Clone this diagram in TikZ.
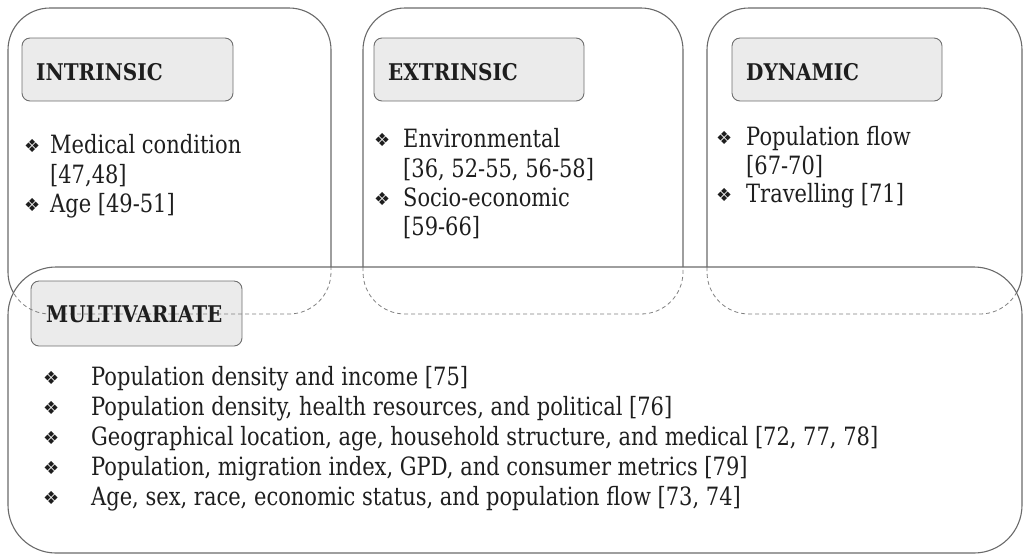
\documentclass[tikz,border=0pt]{standalone}
\usepackage{fontspec}
\usepackage{graphicx}
\setmainfont{DejaVu Serif}
\newfontfamily\dvsans{DejaVu Sans}
\definecolor{linegray}{HTML}{6A6A6A}
\definecolor{dashgray}{HTML}{808080}
\definecolor{headfill}{HTML}{EBEBEB}
\definecolor{headline}{HTML}{6E6E6E}
\definecolor{ink}{HTML}{1E1E1E}
\newcommand{\tallb}[1]{\scalebox{1}[1.2]{#1}}
\newcommand{\tallh}[1]{\scalebox{1}[1.15]{#1}}
\begin{document}
\begin{tikzpicture}[x=1pt,y=-1pt,
  frame/.style={draw=linegray,line width=1.1pt,rounded corners=42},
  dashframe/.style={draw=dashgray,line width=0.8pt,dash pattern=on 4pt off 3pt,rounded corners=42},
  headbox/.style={draw=headline,fill=headfill,line width=0.9pt,rounded corners=8},
  headtxt/.style={anchor=base west,inner sep=0pt,text=ink,font=\fontsize{20}{24}\selectfont\bfseries},
  bodytxt/.style={anchor=base west,inner sep=0pt,text=ink,font=\fontsize{21}{26}\selectfont},
  bul/.style={anchor=base west,inner sep=0pt,text=ink,font=\dvsans\fontsize{18}{20}\selectfont}]
\useasboundingbox (0,0) rectangle (1027,558);
% header boxes
\draw[headbox] (22,38) rectangle (233,101);
\draw[headbox] (374,38) rectangle (584,101);
\draw[headbox] (732,38) rectangle (942,101);
\draw[headbox] (31,281) rectangle (242,346);
% dashed parts of top frames (inside multivariate frame)
\begin{scope}
  \clip[rounded corners=48] (8,267) rectangle (1022,553);
  \draw[dashframe] (8,8) rectangle (331,314);
  \draw[dashframe] (363,8) rectangle (683,314);
  \draw[dashframe] (707,8) rectangle (1022,314);
\end{scope}
% solid parts of top frames (outside multivariate frame)
\begin{scope}[even odd rule]
  \clip (-5,-5) rectangle (1035,565) [rounded corners=48] (8,267) rectangle (1022,553);
  \draw[frame] (8,8) rectangle (331,314);
  \draw[frame] (363,8) rectangle (683,314);
  \draw[frame] (707,8) rectangle (1022,314);
\end{scope}
% multivariate frame
\draw[frame,rounded corners=48] (8,267) rectangle (1022,553);
% headers
\node[headtxt] (hI) at (36,80) {\tallh{INTRINSIC}};
\node[headtxt] (hE) at (388,80) {\tallh{EXTRINSIC}};
\node[headtxt] (hD) at (746,80) {\tallh{DYNAMIC}};
\node[headtxt] (hM) at (46,322) {\tallh{MULTIVARIATE}};
% intrinsic
\node[bul] (bI1) at (24,152) {❖};
\node[bodytxt] (tI1) at (50,153) {\tallb{Medical condition}};
\node[bodytxt] (tI1b) at (50,183) {\tallb{[47,48]}};
\node[bul] (bI2) at (24,211) {❖};
\node[bodytxt] (tI2) at (50,212) {\tallb{Age [49-51]}};
% extrinsic
\node[bul] (bE1) at (374,146) {❖};
\node[bodytxt] (tE1) at (403,147) {\tallb{Environmental}};
\node[bodytxt] (tE1b) at (403,177) {\tallb{[36, 52-55, 56-58]}};
\node[bul] (bE2) at (374,205) {❖};
\node[bodytxt] (tE2) at (403,206) {\tallb{Socio-economic}};
\node[bodytxt] (tE2b) at (403,235) {\tallb{[59-66]}};
% dynamic
\node[bul] (bD1) at (716,144) {❖};
\node[bodytxt] (tD1) at (746,145) {\tallb{Population flow}};
\node[bodytxt] (tD1b) at (746,174) {\tallb{[67-70]}};
\node[bul] (bD2) at (716,201) {❖};
\node[bodytxt] (tD2) at (746,202) {\tallb{Travelling [71]}};
% multivariate
\node[bul] (bM1) at (43,384) {❖};
\node[bodytxt] (tM1) at (91,385) {\tallb{Population density and income [75]}};
\node[bul] (bM2) at (43,414) {❖};
\node[bodytxt] (tM2) at (91,415) {\tallb{Population density, health resources, and political [76]}};
\node[bul] (bM3) at (43,444) {❖};
\node[bodytxt] (tM3) at (91,445) {\tallb{Geographical location, age, household structure, and medical [72, 77, 78]}};
\node[bul] (bM4) at (43,474) {❖};
\node[bodytxt] (tM4) at (91,475) {\tallb{Population, migration index, GPD, and consumer metrics [79]}};
\node[bul] (bM5) at (43,504) {❖};
\node[bodytxt] (tM5) at (91,505) {\tallb{Age, sex, race, economic status, and population flow [73, 74]}};
\end{tikzpicture}
\end{document}
